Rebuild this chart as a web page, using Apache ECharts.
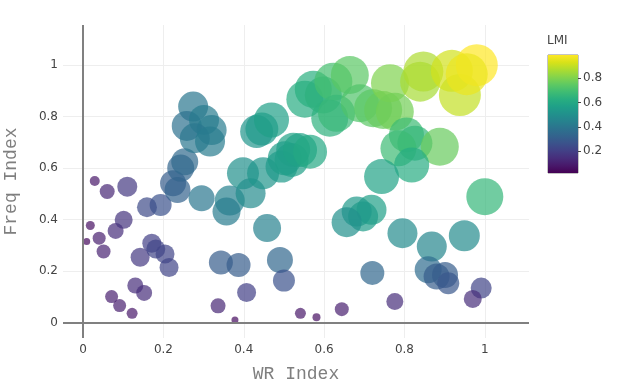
<!DOCTYPE html>
<html>
<head>
<meta charset="utf-8">
<script src="https://cdn.jsdelivr.net/npm/echarts@6/dist/echarts.min.js"></script>
<style>html,body{margin:0;padding:0;background:#fff;}#c{width:624px;height:384px;}</style>
</head>
<body>
<div id="c"></div>
<script>
// ---- data ----
const wrIndex = [0.029,0.060,0.110,0.018,0.009,0.040,0.051,0.081,0.101,0.071,0.091,0.122,0.130,0.152,0.142,0.171,0.181,0.204,0.214,0.159,0.193,
0.224,0.235,0.243,0.253,0.274,0.258,0.301,0.320,0.278,0.316,0.295,0.365,0.357,0.417,0.458,0.343,0.387,0.407,0.336,0.378,0.490,0.500,0.541,0.581,0.644,
0.398,0.448,0.494,0.432,0.445,0.469,0.519,0.523,0.502,0.540,0.565,0.552,0.573,0.598,0.623,0.664,0.614,0.631,0.689,0.722,0.747,0.764,0.776,
0.839,0.847,0.938,0.918,0.980,0.955,0.805,0.826,0.785,0.888,0.818,0.743,0.718,0.697,0.681,0.656,1.000,0.795,0.868,0.949,0.720,0.859,0.880,0.901,0.909,0.991,0.970,0.776];
const freqIndex = [0.550,0.509,0.528,0.377,0.315,0.328,0.276,0.356,0.399,0.101,0.066,0.036,0.144,0.115,0.254,0.308,0.286,0.266,0.214,0.448,0.457,
0.541,0.515,0.600,0.625,0.839,0.764,0.787,0.748,0.716,0.703,0.483,0.474,0.431,0.502,0.367,0.233,0.224,0.117,0.065,0.010,0.243,0.163,0.036,0.021,0.052,
0.580,0.580,0.606,0.742,0.752,0.787,0.632,0.671,0.638,0.670,0.664,0.868,0.906,0.884,0.936,0.962,0.794,0.813,0.852,0.833,0.826,0.930,0.819,
0.936,0.975,0.884,0.978,1.000,0.965,0.729,0.697,0.677,0.683,0.612,0.567,0.438,0.412,0.431,0.390,0.489,0.347,0.295,0.337,0.193,0.205,0.179,0.185,0.153,0.134,0.092,0.082];
const lmi = [0.08,0.12,0.18,0.06,0.04,0.10,0.11,0.14,0.16,0.10,0.10,0.08,0.14,0.14,0.18,0.20,0.22,0.22,0.22,0.24,0.26,
0.30,0.32,0.33,0.35,0.40,0.38,0.42,0.42,0.40,0.42,0.40,0.44,0.42,0.48,0.44,0.30,0.30,0.20,0.12,0.05,0.34,0.26,0.08,0.06,0.10,
0.50,0.52,0.54,0.52,0.54,0.56,0.56,0.58,0.55,0.58,0.60,0.62,0.63,0.64,0.70,0.74,0.64,0.67,0.72,0.74,0.76,0.80,0.78,
0.86,0.87,0.90,0.92,0.99,0.96,0.68,0.66,0.68,0.76,0.62,0.58,0.56,0.55,0.54,0.50,0.66,0.48,0.46,0.48,0.34,0.36,0.30,0.30,0.28,0.22,0.14,0.14];
const bubbleSize = [10,15,20,9,7,13,14,16,18,13,13,11,16,16,19,19,19,19,19,20,22,
26,26,27,27,30,30,30,30,30,30,26,30,28,30,28,24,24,19,15,7,26,22,11,8,14,
32,32,32,33,33,35,34,34,34,34,34,37,37,37,38,38,37,37,38,38,38,38,38,
40,40,42,42,42,42,35,35,36,38,35,35,30,30,30,30,37,30,30,31,24,27,26,26,22,21,18,17];
const xTicks = [0,0.2,0.4,0.6,0.8,1];
const yTicks = [0,0.2,0.4,0.6,0.8,1];
const cbTicks = [0.2,0.4,0.6,0.8];
const lmiMin = 0.02, lmiMax = 0.99;
const viridis = ['#440154','#48186a','#472d7b','#424086','#3b528b','#33638d','#2c728e','#26828e','#21918c','#1fa088','#28ae80','#3fbc73','#5ec962','#84d44b','#addc30','#d8e219','#fde725'];

const points = wrIndex.map((x,i)=>[x, freqIndex[i], lmi[i], bubbleSize[i]]);
const tickFont = {color:'#444', fontSize:12, fontFamily:'DejaVu Sans'};
const titleFont = {color:'#7f7f7f', fontSize:18, fontFamily:'Liberation Mono'};

const chart = echarts.init(document.getElementById('c'), null, {renderer:'canvas'});
chart.setOption({
  animation:false,
  backgroundColor:'#fff',
  title:{text:'LMI', left:547, top:35, padding:0, textStyle:{color:'#444', fontSize:12, fontWeight:'normal', fontFamily:'DejaVu Sans'}},
  grid:[
    {left:63, right:95, top:25, bottom:46, containLabel:false, outerBoundsMode:'none'},
    {left:548, top:55, width:30, height:118, show:true, borderColor:'#888', borderWidth:1, backgroundColor:'transparent', outerBoundsMode:'none'}
  ],
  xAxis:[
    {type:'value', gridIndex:0, min:-0.05, max:1.11,
     name:'WR Index', nameLocation:'middle', nameGap:27, nameTextStyle:titleFont,
     axisLine:{show:false}, axisTick:{show:false},
     axisLabel:Object.assign({margin:6, customValues:xTicks}, tickFont),
     splitLine:{show:true, showMinLine:false, showMaxLine:false, lineStyle:{color:'#eee', width:1}}},
    {type:'category', gridIndex:1, data:['LMI'], show:false}
  ],
  yAxis:[
    {type:'value', gridIndex:0, min:-0.06, max:1.156,
     name:'Freq Index', nameLocation:'middle', nameGap:43, nameTextStyle:titleFont,
     axisLine:{show:false}, axisTick:{show:false},
     axisLabel:Object.assign({margin:5, customValues:yTicks}, tickFont),
     splitLine:{show:true, showMinLine:false, showMaxLine:false, lineStyle:{color:'#eee', width:1}}},
    {type:'value', gridIndex:1, min:lmiMin, max:lmiMax, position:'right',
     axisLine:{show:false},
     axisTick:{show:true, inside:false, length:3, lineStyle:{color:'#444'}, customValues:cbTicks},
     axisLabel:Object.assign({margin:5, customValues:cbTicks}, tickFont),
     splitLine:{show:false}}
  ],
  visualMap:{show:false, type:'continuous', seriesIndex:0, dimension:2, min:lmiMin, max:lmiMax, inRange:{color:viridis}},
  series:[
    {type:'scatter', xAxisIndex:0, yAxisIndex:0, data:points,
     symbolSize:(v)=>v[3],
     itemStyle:{opacity:0.7},
     markLine:{silent:true, symbol:'none', label:{show:false},
       lineStyle:{color:'#808080', width:2, type:'solid'},
       data:[{xAxis:0},{yAxis:0}]}},
    {type:'bar', xAxisIndex:1, yAxisIndex:1, stack:'cb', data:[lmiMin], barWidth:'100%', itemStyle:{color:'transparent'}, silent:true},
    {type:'bar', xAxisIndex:1, yAxisIndex:1, stack:'cb', data:[lmiMax-lmiMin], barWidth:'100%', silent:true,
     itemStyle:{color:new echarts.graphic.LinearGradient(0,1,0,0, viridis.map((c,i)=>({offset:i/(viridis.length-1), color:c})))}}
  ]
});
</script>
</body>
</html>
